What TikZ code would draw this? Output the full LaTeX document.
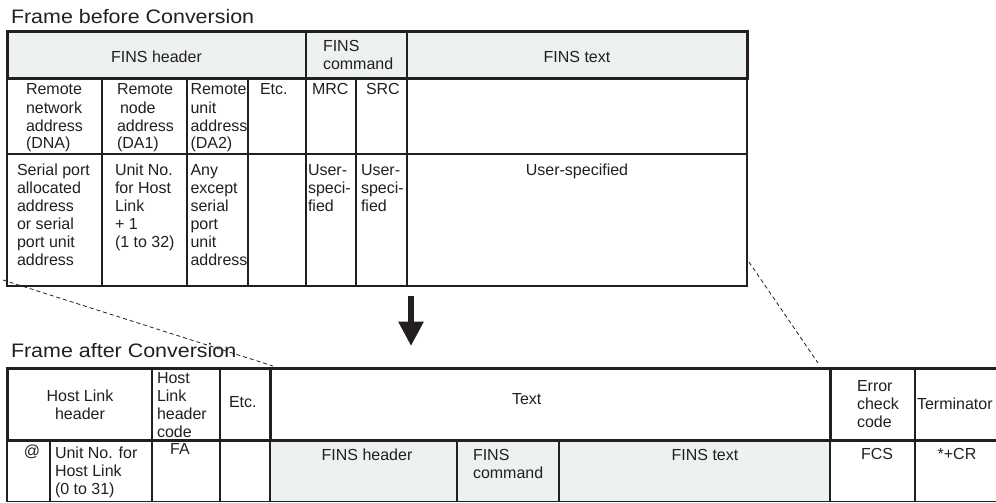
\documentclass[tikz,border=0pt]{standalone}
\usepackage{fontspec}
\setmainfont{Liberation Sans}
\newfontfamily\titlefam[FakeStretch=1.1]{Liberation Sans}
\usetikzlibrary{arrows.meta}
\definecolor{hdrgray}{HTML}{EEF1F2}
\definecolor{ink}{HTML}{231F20}
\newcommand\fs{\fontsize{16}{18}\selectfont}
\newcommand\tfs{\titlefam\fontsize{19.5}{22}\selectfont}
\newcommand\linesL[1]{\begin{tabular}[t]{@{}l@{}}#1\end{tabular}}
\newcommand\linesC[1]{\begin{tabular}[t]{@{}c@{}}#1\end{tabular}}
\begin{document}
\begin{tikzpicture}[x=1pt,y=-1pt,
  txt/.style={inner sep=0pt,outer sep=0pt,anchor=base west,font=\fs,text=ink},
  ctxt/.style={txt,anchor=base},
  ttl/.style={inner sep=0pt,outer sep=0pt,anchor=base west,font=\tfs,text=ink},
  thin/.style={draw=ink,line width=1.2pt},
  mid/.style={draw=ink,line width=1.5pt},
  thick/.style={draw=ink,line width=3pt},
  dashln/.style={draw=ink,line width=0.8pt,dash pattern=on 4pt off 3pt},
  bigarrow/.style={draw=ink,line width=6pt,-{Triangle[length=24.5pt,width=24pt]}}]
\useasboundingbox (0,0) rectangle (996,503);

% ---------- Frame before Conversion ----------
\node[ttl] (t1) at (11,23.5) {Frame before Conversion};
\fill[hdrgray] (7,32) rectangle (747,79);
% thin grid
\draw[thin] (7,79) -- (7,286) -- (747,286) -- (747,79);
\draw[thin] (7,154) -- (747,154);
\foreach \x in {102,187,248,306,356,407} {\draw[thin] (\x,79) -- (\x,286);}
\draw[mid] (306,32) -- (306,79);
\draw[mid] (407,32) -- (407,79);
\draw[thick] (7,32) rectangle (747,79);

\node[ctxt] (fh) at (156.5,63) {FINS header};
\node[txt] (fc) at (323,52) {\linesL{FINS\\command}};
\node[ctxt] (ft) at (577,63) {FINS text};

\node[txt] (dna) at (26,95) {\linesL{Remote\\network\\address\\(DNA)}};
\node[txt] (da1) at (117,95) {\linesL{Remote\\\hspace*{3pt}node\\address\\(DA1)}};
\node[txt] (da2) at (190.5,95) {\linesL{Remote\\unit\\address\\(DA2)}};
\node[txt] (etc1) at (260,95) {Etc.};
\node[txt] (mrc) at (312,95) {MRC};
\node[txt] (src) at (366,95) {SRC};

\node[txt] (v1) at (17,175) {\linesL{Serial port\\allocated\\address\\or serial\\port unit\\address}};
\node[txt] (v2) at (115,175) {\linesL{Unit No.\\for Host\\Link\\+ 1\\(1 to 32)}};
\node[txt] (v3) at (190.5,175) {\linesL{Any\\except\\serial\\port\\unit\\address}};
\node[txt] (v5) at (308,175) {\linesL{User-\\speci-\\fied}};
\node[txt] (v6) at (361,175) {\linesL{User-\\speci-\\fied}};
\node[ctxt] (v7) at (577,175) {User-specified};

% ---------- arrow ----------
\coordinate (arrtop) at (411,296);
\coordinate (arrtip) at (411,346);
\draw[bigarrow] (arrtop) -- (arrtip);

% ---------- dashed guides ----------
\coordinate (dl1) at (3,280);
\coordinate (dl2) at (273,366);
\coordinate (dr1) at (749,262);
\coordinate (dr2) at (818,363);
\draw[dashln] (dl1) -- (dl2);
\draw[dashln] (dr1) -- (dr2);

% ---------- Frame after Conversion ----------
\node[ttl] (t2) at (11,357) {Frame after Conversion};
\fill[hdrgray] (270,440) rectangle (830,501.5);
\draw[thin] (7,440) -- (7,501.5) -- (996,501.5);
\foreach \x in {50,270,457,559,830} {\draw[thin] (\x,440) -- (\x,501.5);}
\foreach \x in {152,220,915} {\draw[thin] (\x,368) -- (\x,501.5);}
\draw[thick] (996,368) -- (7,368) -- (7,440) -- (996,440);
\draw[thick] (270,368) -- (270,440);
\draw[thick] (830,368) -- (830,440);

\node[ctxt] (hlh) at (80,401) {\linesC{Host Link\\header}};
\node[txt] (hlc) at (157,383) {\linesL{Host\\Link\\header\\code}};
\node[txt] (etc2) at (229,407) {Etc.};
\node[txt] (txt) at (512,404) {Text};
\node[txt] (ecc) at (857,391) {\linesL{Error\\check\\code}};
\node[txt] (term) at (917,409) {Terminator};

\node[ctxt] (at) at (32,456) {@};
\node[txt] (uno) at (55,458) {\linesL{Unit No. for\\Host Link\\(0 to 31)}};
\node[ctxt] (fa) at (180,454) {FA};
\node[ctxt] (fh2) at (367,460) {FINS header};
\node[txt] (fc2) at (473,460) {\linesL{FINS\\command}};
\node[ctxt] (ft2) at (705,460) {FINS text};
\node[ctxt] (fcs) at (877,459) {FCS};
\node[ctxt] (cr) at (957,459) {*+CR};
\end{tikzpicture}
\end{document}
